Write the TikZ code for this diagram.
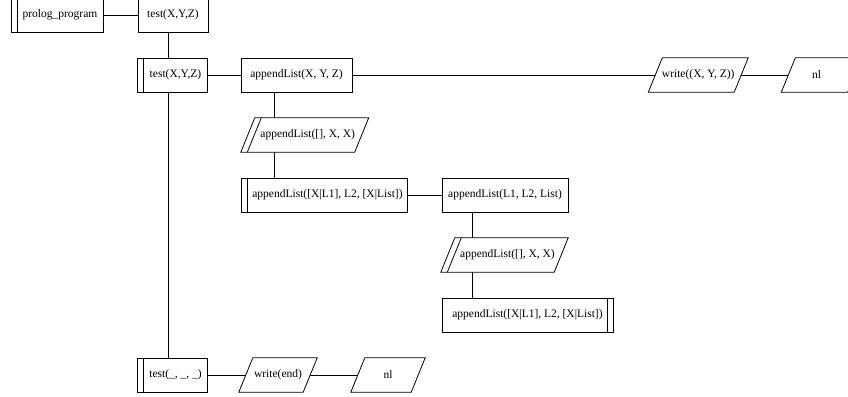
\documentclass[tikz,border=0pt]{standalone}
\usepackage{fontspec}
\setmainfont{Liberation Serif}
\usetikzlibrary{calc}
\tikzset{
  box/.style={draw, line width=0.8pt, inner sep=0pt, minimum height=34pt, font=\fontsize{11.5}{13}\selectfont},
  pnode/.style={inner sep=0pt, minimum height=34pt, font=\fontsize{11.5}{13}\selectfont},
  conn/.style={line width=0.8pt},
}
\newcommand\mypara[1]{\draw[conn] ($(#1.south west)+(-7,0)$) -- ($(#1.north west)+(7,0)$) -- ($(#1.north east)+(7,0)$) -- ($(#1.south east)+(-7,0)$) -- cycle;}
\newcommand\myparaL[1]{\draw[conn] ($(#1.south west)+(-0.5,0)$) -- ($(#1.north west)+(13.5,0)$);}
\newcommand\leftbar[1]{\draw[conn] ($(#1.south west)+(7,0)$) -- ($(#1.north west)+(7,0)$);}
\newcommand\rightbar[1]{\draw[conn] ($(#1.south east)+(-6,0)$) -- ($(#1.north east)+(-6,0)$);}
\begin{document}
\begin{tikzpicture}[x=1pt,y=-1pt]
\useasboundingbox (0,0) rectangle (848,396);
\begin{scope}
\clip (0,0) rectangle (848,396);
\node[box, minimum width=92pt] (prolog) at (57,15) {\hspace{6pt}prolog\_program};
\node[box, minimum width=70pt] (test1) at (173,15) {test(X,Y,Z)};
\node[box, minimum width=70pt] (test2) at (172,75) {\hspace{7pt}test(X,Y,Z)};
\node[box, minimum width=111pt] (appXYZ) at (296.5,75) {appendList(X, Y, Z)};
\node[pnode, minimum width=113.5pt] (para1) at (304.75,135) {\hspace{6pt}appendList([], X, X)};
\node[box, minimum width=166pt] (app2) at (324,195) {\hspace{7pt}appendList([X|L1], L2, [X|List])};
\node[box, minimum width=126pt] (app3) at (505,195) {appendList(L1, L2, List)};
\node[pnode, minimum width=113pt] (para2) at (504.5,255) {\hspace{6pt}appendList([], X, X)};
\node[box, minimum width=171pt] (app4) at (527.5,315) {appendList([X|L1], L2, [X|List])\hspace{6pt}};
\node[box, minimum width=70pt] (test3) at (172,375) {\hspace{7pt}test(\_, \_, \_)};
\node[pnode, minimum width=64pt] (wend) at (278,375) {write(end)};
\node[pnode, minimum width=60pt] (nl2) at (388,375) {nl};
\node[pnode, minimum width=85.5pt] (wxyz) at (698.25,75) {write((X, Y, Z))};
\node[pnode, minimum width=66pt] (nl1) at (821.5,75) {\hspace{-10pt}nl};
\leftbar{prolog}
\leftbar{test2}
\leftbar{app2}
\leftbar{test3}
\rightbar{app4}
\mypara{para1}\myparaL{para1}
\mypara{para2}\myparaL{para2}
\mypara{wend}
\mypara{nl2}
\mypara{wxyz}
\mypara{nl1}
\coordinate (tk) at (168,0);
\coordinate (ta) at (274,0);
\coordinate (tb) at (472,0);
\draw[conn] (prolog.east) -- (test1.west);
\draw[conn] (test1.south -| tk) -- (test2.north -| tk);
\draw[conn] (test2.south -| tk) -- (test3.north -| tk);
\draw[conn] (test2.east) -- (appXYZ.west);
\draw[conn] (appXYZ.east) -- (wxyz.west);
\draw[conn] (wxyz.east) -- (nl1.west);
\draw[conn] (appXYZ.south -| ta) -- (para1.north -| ta);
\draw[conn] (para1.south -| ta) -- (app2.north -| ta);
\draw[conn] (app2.east) -- (app3.west);
\draw[conn] (app3.south -| tb) -- (para2.north -| tb);
\draw[conn] (para2.south -| tb) -- (app4.north -| tb);
\draw[conn] (test3.east) -- (wend.west);
\draw[conn] (wend.east) -- (nl2.west);
\end{scope}
\end{tikzpicture}
\end{document}
